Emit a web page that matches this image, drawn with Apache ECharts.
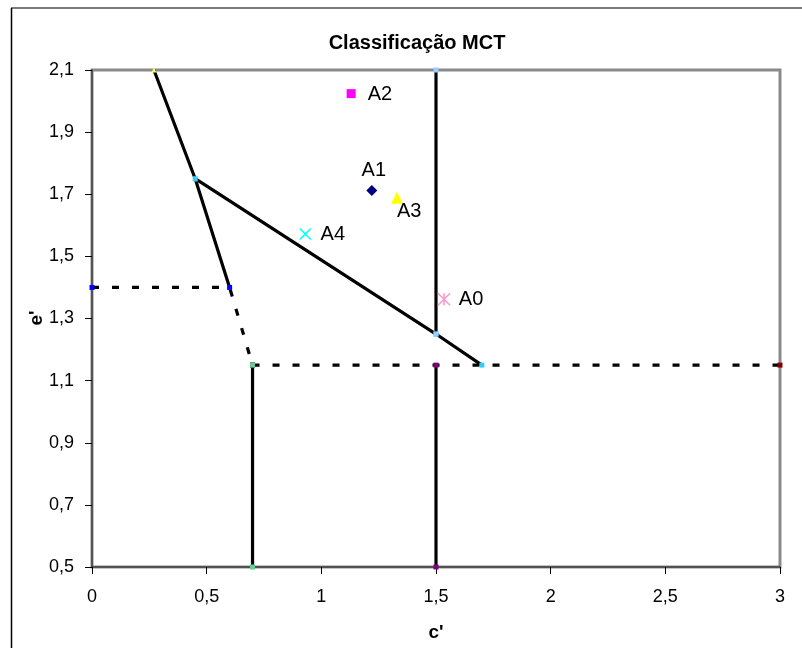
<!DOCTYPE html>
<html>
<head>
<meta charset="utf-8">
<script src="https://cdn.jsdelivr.net/npm/echarts@6/dist/echarts.min.js"></script>
<style>html,body{margin:0;padding:0;background:#fff}#c{width:802px;height:648px}</style>
</head>
<body>
<div id="c"></div>
<script>
// ---- data ----
const titleText = "Classificação MCT";
const xName = "c'";
const yName = "e'";
const xMin = 0, xMax = 3, xStep = 0.5;
const yMin = 0.5, yMax = 2.1, yStep = 0.2;

// boundary segments [c', e']
const segUpperLeft = [[0.27, 2.1], [0.45, 1.75], [0.6, 1.4]];
const segDiagonal = [[0.45, 1.75], [1.5, 1.25], [1.7, 1.15]];
const segDashLeft = [[0, 1.4], [0.6, 1.4], [0.7, 1.15]];
const segDashRight = [[0.7, 1.15], [3, 1.15]];
const segVert07 = [[0.7, 1.15], [0.7, 0.5]];
const segVert15Top = [[1.5, 2.1], [1.5, 1.25]];
const segVert15Bottom = [[1.5, 1.15], [1.5, 0.5]];

// alternatives
const ptNames = ["A0", "A1", "A2", "A3", "A4"];
const ptX = [1.535, 1.22, 1.13, 1.33, 0.93];
const ptY = [1.362, 1.712, 2.024, 1.689, 1.572];

// ---- chart ----
const chart = echarts.init(document.getElementById('c'), null, {renderer: 'canvas'});
const FONT = 'Liberation Sans, Arial, sans-serif';
const fmt = v => String(Math.round(v * 10) / 10).replace('.', ',');

function lineSeries(name, data, dashed, mColor, mSymbol) {
  return {
    name, type: 'line', data, z: 3,
    showSymbol: true, symbol: mSymbol, symbolSize: 5,
    itemStyle: {color: mColor},
    lineStyle: {color: '#000', width: 3.2, type: dashed ? [7, 13] : 'solid', cap: 'butt'},
    animation: false, clip: false
  };
}

const ptStyles = [
  {symbol: 'path://M0,0L10,10M10,0L0,10M5,0L5,10', size: 12, color: 'transparent', border: '#FF99CC', bw: 1.6,
   label: {position: 'right', distance: 8, offset: [0, 0]}},
  {symbol: 'diamond', size: 11, color: '#000080', border: '#000080', bw: 0,
   label: {position: 'top', distance: 5, offset: [2, 0]}},
  {symbol: 'rect', size: 9, color: '#FF00FF', border: '#FF00FF', bw: 0,
   label: {position: 'right', distance: 12, offset: [0, 1]}},
  {symbol: 'triangle', size: 12, color: '#FFFF00', border: '#FFFF00', bw: 0,
   label: {position: 'right', distance: -6, offset: [0, 14]}},
  {symbol: 'path://M0,0L10,10M10,0L0,10', size: 11, color: 'transparent', border: '#00FFFF', bw: 1.6,
   label: {position: 'right', distance: 9, offset: [0, 0]}}
];

const pointSeries = ptNames.map((n, i) => {
  const s = ptStyles[i];
  return {
    name: n, type: 'scatter', z: 5,
    data: [[ptX[i], ptY[i]]],
    symbol: s.symbol, symbolSize: s.size,
    itemStyle: {color: s.color, borderColor: s.border, borderWidth: s.bw, opacity: 1},
    label: Object.assign({show: true, formatter: n, color: '#000', fontSize: 20, fontFamily: FONT}, s.label),
    animation: false
  };
});

chart.setOption({
  backgroundColor: '#fff',
  animation: false,
  title: {
    text: titleText, left: 412, top: 28, textAlign: 'center',
    textStyle: {fontFamily: FONT, fontWeight: 'bold', fontSize: 20, color: '#000'}
  },
  grid: {left: 92, right: 22, top: 70, bottom: 81, show: true, borderColor: '#8a8a8a', borderWidth: 3, backgroundColor: '#fff'},
  xAxis: {
    type: 'value', min: xMin, max: xMax, interval: xStep,
    name: xName, nameLocation: 'middle', nameGap: 56,
    nameTextStyle: {fontFamily: FONT, fontWeight: 'bold', fontSize: 19, color: '#000'},
    axisLine: {show: true, lineStyle: {color: '#404040', width: 1.5}},
    axisTick: {show: true, inside: false, length: 7, lineStyle: {color: '#000', width: 1}},
    axisLabel: {formatter: fmt, fontFamily: FONT, fontSize: 18, color: '#000', margin: 21},
    splitLine: {show: false}
  },
  yAxis: {
    type: 'value', min: yMin, max: yMax, interval: yStep,
    axisLine: {show: true, lineStyle: {color: '#404040', width: 1.5}},
    axisTick: {show: true, inside: false, length: 7, lineStyle: {color: '#000', width: 1}},
    axisLabel: {formatter: fmt, fontFamily: FONT, fontSize: 18, color: '#000', margin: 18},
    splitLine: {show: false}
  },
  graphic: [
    {type: 'line', shape: {x1: 11, y1: 8, x2: 802, y2: 8}, style: {stroke: '#7a7a7a', lineWidth: 2}, z: 10},
    {type: 'line', shape: {x1: 11.5, y1: 8, x2: 11.5, y2: 648}, style: {stroke: '#000', lineWidth: 1.5}, z: 10},
    {type: 'text', x: 37, y: 318, rotation: Math.PI / 2, z: 10,
     style: {text: yName, fill: '#000', font: 'bold 19px ' + FONT, align: 'center', verticalAlign: 'middle'}}
  ],
  series: [
    lineSeries('upperLeft', segUpperLeft, false, '#FFFF66', 'triangle'),
    lineSeries('diagonal', segDiagonal, false, '#33CCFF', 'rect'),
    lineSeries('dashLeft', segDashLeft, true, '#0000FF', 'rect'),
    lineSeries('dashRight', segDashRight, true, '#800000', 'rect'),
    lineSeries('vert07', segVert07, false, '#66CC99', 'rect'),
    lineSeries('vert15Top', segVert15Top, false, '#99CCFF', 'rect'),
    lineSeries('vert15Bottom', segVert15Bottom, false, '#800080', 'rect')
  ].concat(pointSeries)
});
</script>
</body>
</html>
